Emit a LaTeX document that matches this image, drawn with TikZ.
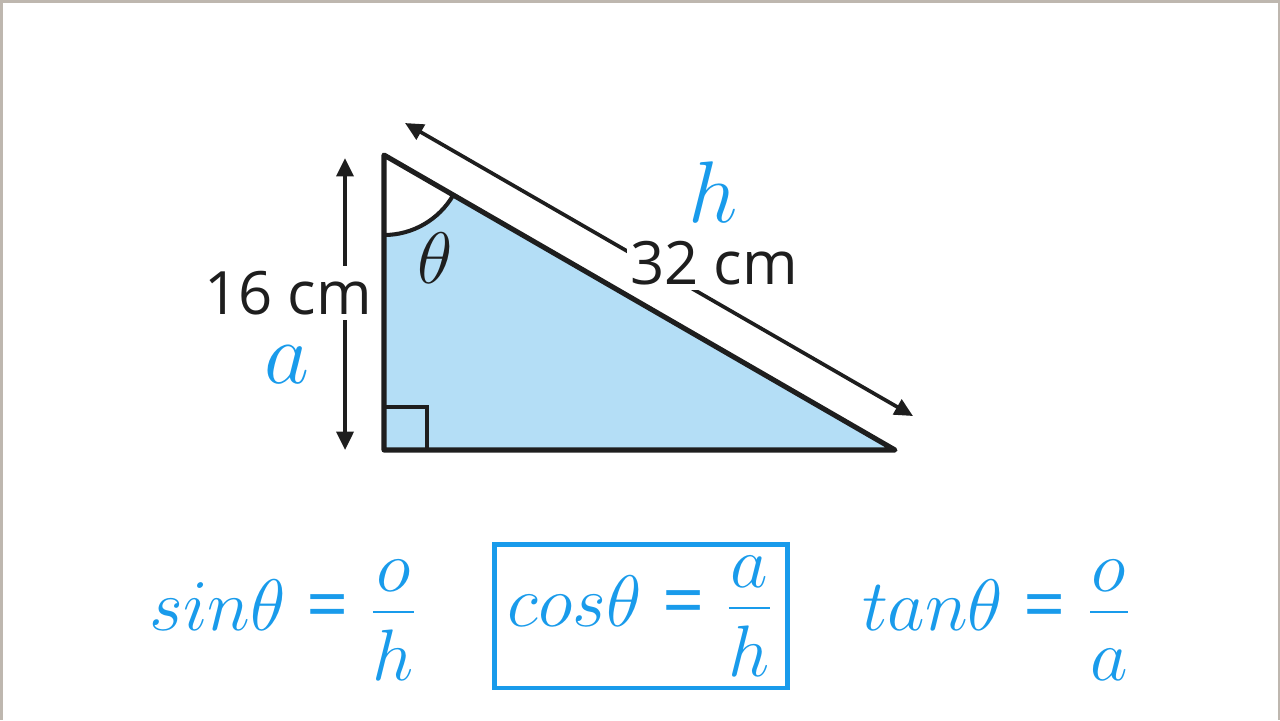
\documentclass[tikz,border=0pt]{standalone}
\usepackage{amsmath}
\usepackage{fontspec}
\newfontfamily\labelfont{Open Sans}
\usetikzlibrary{arrows.meta}
\definecolor{bitblue}{RGB}{25,155,235}
\definecolor{trifill}{RGB}{180,222,246}
\definecolor{inkblack}{RGB}{30,30,30}
\definecolor{framegrey}{RGB}{190,183,175}
\newcommand\ratioeq{\mathrel{\text{\labelfont =}}}
\newcommand\ratiofrac[2]{\dfrac{\raisebox{-0.14em}{$#1$}}{#2}}

\begin{document}
\begin{tikzpicture}[
        x=0.01cm, y=0.01cm,
        >={Triangle[length=5.2pt,width=4.8pt]},
        side/.style={line width=1.45pt, draw=inkblack, line join=round},
        thinside/.style={line width=1.15pt, draw=inkblack},
        dimline/.style={line width=1.05pt, draw=inkblack, <->},
        measure/.style={font=\labelfont\fontsize{17}{20}\selectfont, text=inkblack,
            fill=white, inner xsep=1pt, inner ysep=1.5pt},
        sidename/.style={text=bitblue, font=\fontsize{26}{30}\selectfont, inner sep=0pt},
        ratio/.style={text=bitblue, font=\fontsize{21}{25}\selectfont},
    ]

    \useasboundingbox (0,0) rectangle (1280,-720);
    \fill[framegrey] (0,0) rectangle (2.5,-720);
    \fill[framegrey] (0,0) rectangle (1280,-2.5);
    \fill[framegrey] (1277.5,0) rectangle (1280,-720);

    \coordinate (top) at (384,-155);
    \coordinate (corner) at (384,-450);
    \coordinate (right) at (895,-450);

    % triangle and angle mark
    \fill[trifill] (top) -- (corner) -- (right) -- cycle;
    \fill[white] (top) -- ++(-90:80) arc[start angle=-90, end angle=-30, radius=80] -- cycle;
    \draw[thinside] (corner) rectangle ++(43,43);
    \draw[thinside] (top) ++(-90:80) arc[start angle=-90, end angle=-30, radius=80];
    \node[text=inkblack, font=\fontsize{22}{26}\selectfont] (theta) at (435,-258) {$\theta$};

    % measurements
    \coordinate (adjtop) at (345,-158);
    \coordinate (adjbot) at (345,-450);
    \coordinate (hyptop) at (405,-123);
    \coordinate (hypbot) at (913,-416);
    \draw[dimline] (adjtop) -- (adjbot);
    \draw[dimline] (hyptop) -- (hypbot);
    \node[measure] (len16) at (288,-293) {16 cm};
    \node[measure] (len32) at (714,-263) {32 cm};
    \node[sidename] (adjname) at (287,-365) {$a$};
    \node[sidename] (hypname) at (713,-192) {$h$};

    \draw[side] (top) -- (corner) -- (right) -- cycle;

    % ratios
    \node[ratio] (sinrule) at (284,-620) {$sin\theta \ratioeq \ratiofrac{o}{h}$};
    \node[ratio, draw=bitblue, line width=1.4pt, minimum width=2.92cm,
        minimum height=1.35cm] (cosrule) at (641,-616) {$cos\theta \ratioeq \ratiofrac{a}{h}$};
    \node[ratio] (tanrule) at (997,-620) {$tan\theta \ratioeq \ratiofrac{o}{a}$};

\end{tikzpicture}
\end{document}
